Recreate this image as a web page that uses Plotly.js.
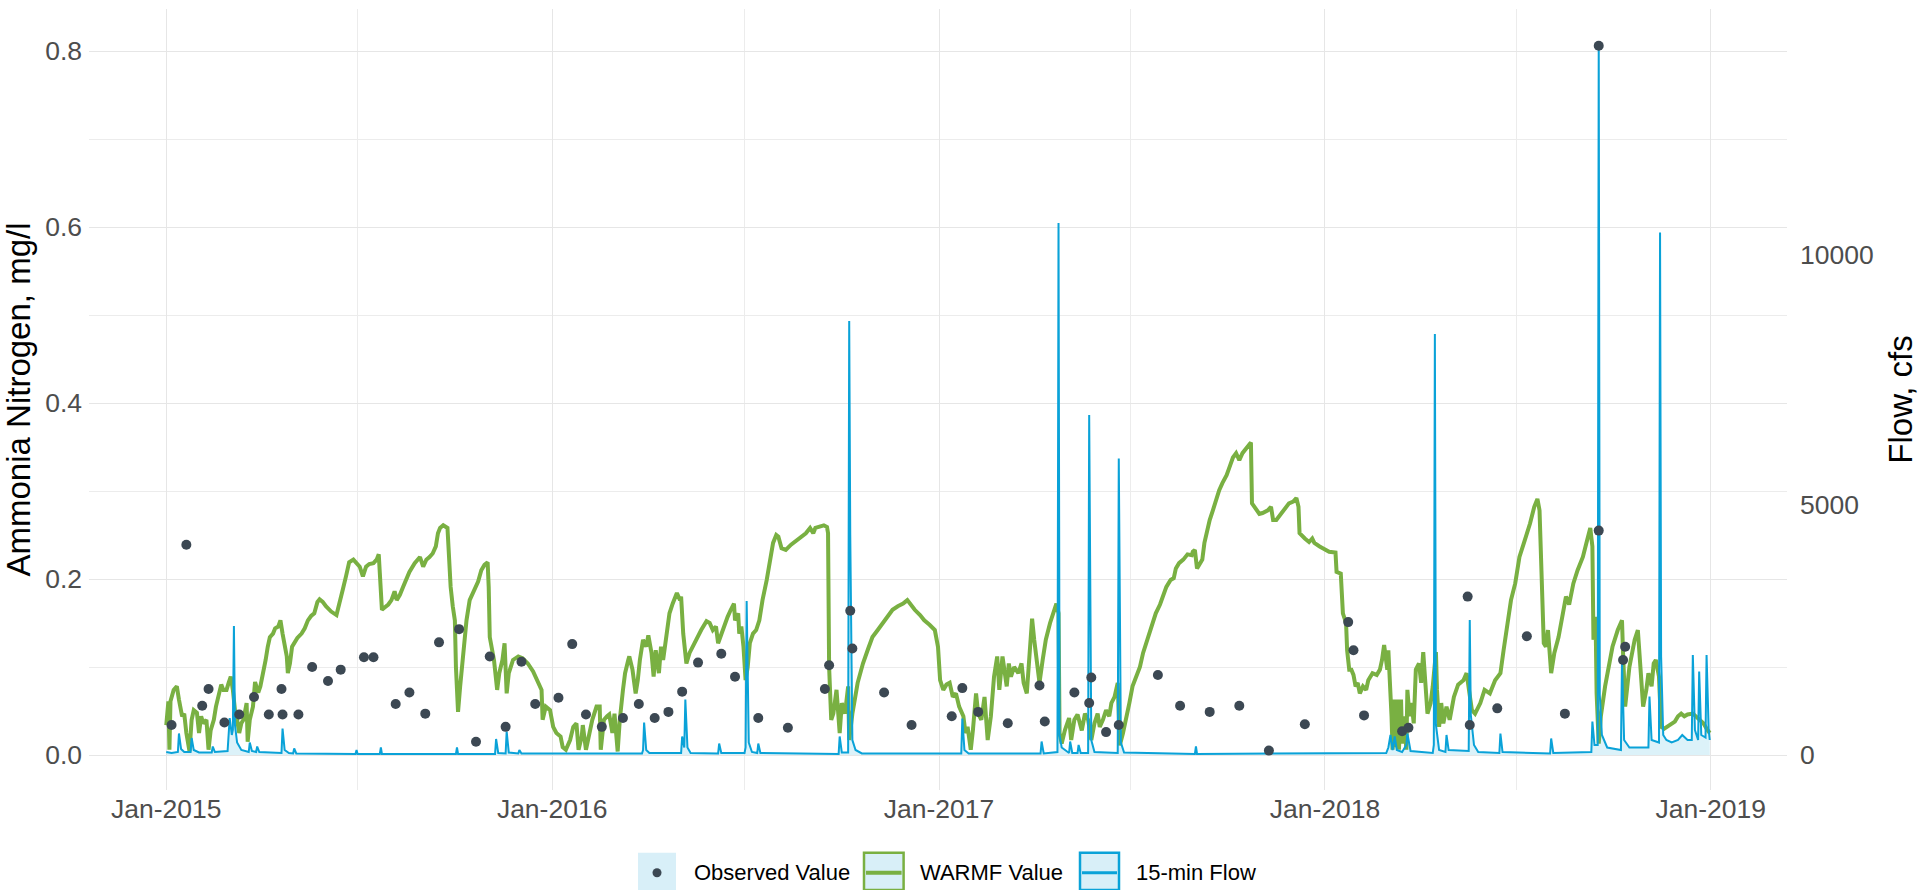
<!DOCTYPE html>
<html>
<head>
<meta charset="utf-8">
<script src="https://cdn.plot.ly/plotly-3.0.1.min.js"></script>
<style>html,body{margin:0;padding:0;background:#fff;}#chart{width:1920px;height:890px;}</style>
</head>
<body>
<div id="chart"></div>
<script>
// ---------- DATA ----------
const obsDates = ['2015-01-06','2015-01-20','2015-02-04','2015-02-10','2015-02-25','2015-03-11','2015-03-25','2015-04-08','2015-04-20','2015-04-21','2015-05-06','2015-05-19','2015-06-03','2015-06-15','2015-07-07','2015-07-16','2015-08-06','2015-08-19','2015-09-03','2015-09-16','2015-10-05','2015-10-21','2015-11-03','2015-11-18','2015-12-03','2015-12-16','2016-01-07','2016-01-20','2016-02-02','2016-02-17','2016-03-08','2016-03-23','2016-04-07','2016-04-20','2016-05-03','2016-05-18','2016-06-09','2016-06-22','2016-07-14','2016-08-11','2016-09-15','2016-09-19','2016-10-09','2016-10-11','2016-11-10','2016-12-06','2017-01-13','2017-01-23','2017-02-07','2017-03-07','2017-04-06','2017-04-11','2017-05-09','2017-05-23','2017-05-25','2017-06-08','2017-06-20','2017-07-27','2017-08-17','2017-09-14','2017-10-12','2017-11-09','2017-12-13','2018-01-23','2018-01-28','2018-02-07','2018-03-15','2018-03-21','2018-05-16','2018-05-18','2018-06-13','2018-07-11','2018-08-16','2018-09-17','2018-09-17','2018-10-10','2018-10-12'];
const obsValues = [0.034,0.239,0.056,0.075,0.037,0.046,0.066,0.046,0.075,0.046,0.046,0.100,0.084,0.097,0.111,0.111,0.058,0.071,0.047,0.128,0.143,0.015,0.112,0.032,0.106,0.058,0.065,0.126,0.046,0.032,0.042,0.058,0.042,0.049,0.072,0.105,0.115,0.089,0.042,0.031,0.075,0.102,0.164,0.121,0.071,0.034,0.044,0.076,0.049,0.036,0.079,0.038,0.071,0.059,0.088,0.026,0.034,0.091,0.056,0.049,0.056,0.005,0.035,0.151,0.119,0.045,0.027,0.031,0.180,0.034,0.053,0.135,0.047,0.255,0.806,0.108,0.123];

const warmfDates = ['2015-01-01','2015-01-03','2015-01-04','2015-01-05','2015-01-08','2015-01-11','2015-01-13','2015-01-16','2015-01-18','2015-01-20','2015-01-23','2015-01-25','2015-01-27','2015-01-30','2015-02-01','2015-02-03','2015-02-05','2015-02-08','2015-02-10','2015-02-12','2015-02-15','2015-02-17','2015-02-20','2015-02-22','2015-02-24','2015-02-27','2015-03-01','2015-03-03','2015-03-05','2015-03-07','2015-03-09','2015-03-11','2015-03-13','2015-03-15','2015-03-18','2015-03-19','2015-03-21','2015-03-24','2015-03-26','2015-03-29','2015-03-31','2015-04-02','2015-04-05','2015-04-07','2015-04-09','2015-04-12','2015-04-14','2015-04-17','2015-04-19','2015-04-21','2015-04-23','2015-04-25','2015-04-26','2015-04-28','2015-04-30','2015-05-02','2015-05-05','2015-05-09','2015-05-12','2015-05-15','2015-05-18','2015-05-21','2015-05-24','2015-05-26','2015-05-29','2015-06-01','2015-06-06','2015-06-11','2015-06-14','2015-06-17','2015-06-20','2015-06-23','2015-06-27','2015-06-30','2015-07-03','2015-07-06','2015-07-09','2015-07-12','2015-07-16','2015-07-19','2015-07-21','2015-07-22','2015-07-24','2015-07-26','2015-07-30','2015-08-02','2015-08-05','2015-08-07','2015-08-10','2015-08-13','2015-08-16','2015-08-19','2015-08-24','2015-08-29','2015-09-01','2015-09-04','2015-09-07','2015-09-10','2015-09-13','2015-09-15','2015-09-17','2015-09-20','2015-09-24','2015-09-25','2015-09-27','2015-09-29','2015-10-01','2015-10-02','2015-10-04','2015-10-06','2015-10-09','2015-10-12','2015-10-15','2015-10-20','2015-10-23','2015-10-26','2015-10-29','2015-11-01','2015-11-02','2015-11-03','2015-11-05','2015-11-07','2015-11-10','2015-11-12','2015-11-15','2015-11-17','2015-11-19','2015-11-21','2015-11-25','2015-11-30','2015-12-04','2015-12-09','2015-12-14','2015-12-18','2015-12-22','2015-12-23','2015-12-26','2015-12-30','2016-01-02','2016-01-05','2016-01-09','2016-01-11','2016-01-14','2016-01-18','2016-01-21','2016-01-24','2016-01-26','2016-01-29','2016-01-30','2016-02-02','2016-02-05','2016-02-08','2016-02-12','2016-02-15','2016-02-16','2016-02-19','2016-02-22','2016-02-24','2016-02-27','2016-02-29','2016-03-03','2016-03-05','2016-03-08','2016-03-10','2016-03-13','2016-03-14','2016-03-17','2016-03-20','2016-03-22','2016-03-24','2016-03-27','2016-03-30','2016-04-01','2016-04-04','2016-04-06','2016-04-08','2016-04-11','2016-04-13','2016-04-15','2016-04-18','2016-04-21','2016-04-24','2016-04-28','2016-05-01','2016-05-02','2016-05-04','2016-05-07','2016-05-10','2016-05-13','2016-05-17','2016-05-21','2016-05-26','2016-05-29','2016-06-01','2016-06-04','2016-06-06','2016-06-09','2016-06-12','2016-06-15','2016-06-18','2016-06-21','2016-06-22','2016-06-25','2016-06-26','2016-06-28','2016-06-30','2016-07-02','2016-07-04','2016-07-06','2016-07-09','2016-07-12','2016-07-15','2016-07-18','2016-07-22','2016-07-25','2016-07-28','2016-07-31','2016-08-02','2016-08-05','2016-08-09','2016-08-14','2016-08-19','2016-08-24','2016-08-28','2016-09-01','2016-09-04','2016-09-06','2016-09-10','2016-09-14','2016-09-17','2016-09-18','2016-09-19','2016-09-20','2016-09-21','2016-09-23','2016-09-26','2016-09-29','2016-10-01','2016-10-04','2016-10-07','2016-10-08','2016-10-11','2016-10-16','2016-10-21','2016-10-26','2016-10-30','2016-11-04','2016-11-09','2016-11-14','2016-11-18','2016-11-23','2016-11-28','2016-12-02','2016-12-06','2016-12-09','2016-12-14','2016-12-18','2016-12-23','2016-12-28','2016-12-31','2017-01-02','2017-01-05','2017-01-08','2017-01-11','2017-01-14','2017-01-17','2017-01-20','2017-01-24','2017-01-26','2017-01-28','2017-01-31','2017-02-02','2017-02-05','2017-02-07','2017-02-10','2017-02-13','2017-02-16','2017-02-19','2017-02-22','2017-02-25','2017-02-27','2017-03-02','2017-03-06','2017-03-08','2017-03-10','2017-03-13','2017-03-17','2017-03-20','2017-03-22','2017-03-25','2017-03-28','2017-03-30','2017-04-01','2017-04-04','2017-04-06','2017-04-09','2017-04-12','2017-04-16','2017-04-19','2017-04-22','2017-04-24','2017-04-25','2017-04-27','2017-04-30','2017-05-04','2017-05-06','2017-05-09','2017-05-12','2017-05-16','2017-05-19','2017-05-22','2017-05-25','2017-05-28','2017-05-31','2017-06-02','2017-06-05','2017-06-08','2017-06-11','2017-06-13','2017-06-16','2017-06-19','2017-06-20','2017-06-21','2017-06-24','2017-06-27','2017-06-30','2017-07-03','2017-07-07','2017-07-10','2017-07-13','2017-07-16','2017-07-19','2017-07-22','2017-07-25','2017-07-29','2017-08-01','2017-08-04','2017-08-08','2017-08-11','2017-08-13','2017-08-16','2017-08-20','2017-08-24','2017-08-28','2017-08-29','2017-08-31','2017-09-02','2017-09-04','2017-09-07','2017-09-09','2017-09-11','2017-09-14','2017-09-17','2017-09-20','2017-09-23','2017-09-26','2017-09-30','2017-10-03','2017-10-06','2017-10-09','2017-10-12','2017-10-15','2017-10-19','2017-10-23','2017-10-24','2017-10-27','2017-10-31','2017-11-03','2017-11-08','2017-11-11','2017-11-13','2017-11-16','2017-11-20','2017-11-24','2017-11-28','2017-12-02','2017-12-05','2017-12-07','2017-12-08','2017-12-13','2017-12-17','2017-12-20','2017-12-22','2017-12-27','2018-01-01','2018-01-05','2018-01-11','2018-01-12','2018-01-16','2018-01-18','2018-01-21','2018-01-22','2018-01-24','2018-01-26','2018-01-28','2018-01-30','2018-02-01','2018-02-03','2018-02-06','2018-02-09','2018-02-11','2018-02-15','2018-02-19','2018-02-22','2018-02-24','2018-02-26','2018-03-01','2018-03-02','2018-03-05','2018-03-06','2018-03-08','2018-03-09','2018-03-11','2018-03-12','2018-03-14','2018-03-15','2018-03-17','2018-03-19','2018-03-20','2018-03-22','2018-03-24','2018-03-26','2018-03-28','2018-03-31','2018-04-02','2018-04-04','2018-04-06','2018-04-08','2018-04-11','2018-04-13','2018-04-16','2018-04-17','2018-04-19','2018-04-21','2018-04-23','2018-04-26','2018-04-29','2018-05-03','2018-05-07','2018-05-12','2018-05-15','2018-05-17','2018-05-20','2018-05-23','2018-05-28','2018-06-01','2018-06-06','2018-06-11','2018-06-16','2018-06-19','2018-06-23','2018-06-26','2018-06-30','2018-07-04','2018-07-09','2018-07-14','2018-07-18','2018-07-21','2018-07-23','2018-07-25','2018-07-27','2018-07-29','2018-07-31','2018-08-03','2018-08-06','2018-08-10','2018-08-14','2018-08-17','2018-08-20','2018-08-24','2018-08-28','2018-09-02','2018-09-06','2018-09-09','2018-09-11','2018-09-12','2018-09-14','2018-09-15','2018-09-17','2018-09-19','2018-09-23','2018-09-26','2018-09-30','2018-10-05','2018-10-09','2018-10-10','2018-10-12','2018-10-16','2018-10-21','2018-10-24','2018-10-26','2018-10-29','2018-11-01','2018-11-03','2018-11-06','2018-11-08','2018-11-10','2018-11-13','2018-11-15','2018-11-18','2018-11-23','2018-11-28','2018-12-01','2018-12-04','2018-12-07','2018-12-10','2018-12-15','2018-12-20','2018-12-25','2018-12-28','2018-12-31'];
const warmfValues = [0.034,0.061,0.006,0.061,0.074,0.078,0.063,0.044,0.047,0.025,0.004,0.040,0.051,0.048,0.025,0.044,0.036,0.040,0.006,0.028,0.040,0.055,0.070,0.080,0.074,0.074,0.082,0.089,0.074,0.051,0.040,0.025,0.036,0.040,0.059,0.015,0.040,0.055,0.083,0.071,0.078,0.089,0.108,0.123,0.134,0.138,0.144,0.146,0.153,0.138,0.127,0.112,0.093,0.104,0.123,0.127,0.133,0.138,0.144,0.153,0.158,0.161,0.174,0.177,0.174,0.169,0.163,0.159,0.172,0.188,0.203,0.219,0.222,0.218,0.214,0.203,0.214,0.217,0.218,0.222,0.228,0.207,0.165,0.167,0.171,0.176,0.186,0.176,0.182,0.191,0.199,0.208,0.218,0.225,0.214,0.222,0.225,0.229,0.237,0.252,0.258,0.261,0.258,0.233,0.191,0.169,0.153,0.100,0.049,0.078,0.116,0.153,0.176,0.188,0.197,0.210,0.216,0.219,0.191,0.134,0.123,0.108,0.074,0.093,0.108,0.127,0.070,0.093,0.108,0.112,0.110,0.104,0.095,0.085,0.074,0.040,0.055,0.051,0.032,0.025,0.021,0.009,0.006,0.017,0.032,0.036,0.006,0.021,0.034,0.006,0.025,0.040,0.055,0.055,0.006,0.040,0.044,0.046,0.025,0.047,0.004,0.040,0.074,0.093,0.108,0.112,0.097,0.070,0.085,0.108,0.131,0.123,0.136,0.116,0.089,0.119,0.093,0.123,0.108,0.138,0.161,0.172,0.184,0.176,0.180,0.138,0.104,0.116,0.123,0.134,0.142,0.152,0.150,0.142,0.146,0.127,0.138,0.146,0.157,0.165,0.172,0.153,0.161,0.138,0.146,0.123,0.085,0.100,0.127,0.138,0.142,0.153,0.176,0.199,0.222,0.241,0.250,0.248,0.235,0.233,0.239,0.244,0.248,0.252,0.258,0.252,0.258,0.259,0.261,0.259,0.252,0.100,0.047,0.040,0.047,0.074,0.025,0.059,0.047,0.078,0.017,0.047,0.082,0.104,0.121,0.134,0.142,0.150,0.157,0.165,0.169,0.172,0.176,0.169,0.165,0.159,0.153,0.148,0.142,0.123,0.085,0.074,0.080,0.082,0.066,0.070,0.055,0.044,0.025,0.032,0.006,0.028,0.070,0.047,0.040,0.066,0.017,0.044,0.089,0.112,0.074,0.112,0.078,0.104,0.089,0.100,0.093,0.104,0.082,0.070,0.116,0.155,0.131,0.104,0.082,0.108,0.131,0.150,0.161,0.172,0.161,0.025,0.013,0.028,0.042,0.017,0.040,0.046,0.028,0.047,0.040,0.017,0.036,0.047,0.032,0.040,0.051,0.044,0.059,0.066,0.082,0.044,0.011,0.025,0.040,0.059,0.078,0.089,0.100,0.116,0.127,0.138,0.150,0.161,0.171,0.180,0.191,0.199,0.201,0.212,0.218,0.222,0.228,0.227,0.231,0.233,0.212,0.216,0.222,0.241,0.252,0.267,0.278,0.290,0.301,0.309,0.318,0.328,0.338,0.343,0.335,0.343,0.349,0.355,0.286,0.280,0.274,0.275,0.278,0.282,0.267,0.267,0.273,0.280,0.286,0.288,0.292,0.282,0.252,0.246,0.242,0.246,0.241,0.237,0.234,0.231,0.230,0.208,0.206,0.161,0.150,0.119,0.097,0.097,0.091,0.078,0.082,0.070,0.078,0.074,0.085,0.093,0.091,0.097,0.108,0.125,0.097,0.119,0.044,0.006,0.063,0.009,0.063,0.006,0.063,0.013,0.044,0.006,0.074,0.044,0.059,0.036,0.097,0.104,0.082,0.117,0.082,0.047,0.059,0.078,0.117,0.074,0.032,0.059,0.036,0.055,0.040,0.066,0.080,0.085,0.093,0.074,0.051,0.047,0.059,0.074,0.070,0.085,0.093,0.119,0.150,0.176,0.195,0.225,0.244,0.263,0.282,0.291,0.278,0.195,0.127,0.123,0.142,0.093,0.116,0.134,0.161,0.180,0.171,0.195,0.210,0.225,0.244,0.258,0.237,0.131,0.157,0.070,0.013,0.044,0.078,0.100,0.123,0.142,0.153,0.116,0.055,0.100,0.131,0.142,0.108,0.055,0.074,0.093,0.078,0.104,0.108,0.089,0.032,0.030,0.034,0.038,0.044,0.047,0.044,0.046,0.047,0.042,0.036,0.030,0.025];

const flowDates = ['2015-01-01','2015-01-06','2015-01-12','2015-01-13','2015-01-15','2015-01-18','2015-01-24','2015-01-25','2015-01-27','2015-02-01','2015-02-13','2015-02-14','2015-02-16','2015-02-28','2015-03-02','2015-03-04','2015-03-05','2015-03-06','2015-03-07','2015-03-09','2015-03-13','2015-03-20','2015-03-21','2015-03-23','2015-03-27','2015-03-28','2015-03-30','2015-04-20','2015-04-21','2015-04-23','2015-04-27','2015-05-01','2015-05-02','2015-05-04','2015-06-29','2015-06-30','2015-07-01','2015-07-22','2015-07-23','2015-07-24','2015-10-02','2015-10-03','2015-10-04','2015-11-08','2015-11-09','2015-11-11','2015-11-18','2015-11-19','2015-11-21','2015-11-30','2015-12-01','2015-12-03','2016-03-26','2016-03-27','2016-03-28','2016-03-30','2016-04-02','2016-05-02','2016-05-03','2016-05-05','2016-05-06','2016-05-08','2016-05-11','2016-06-06','2016-06-07','2016-06-09','2016-07-01','2016-07-02','2016-07-03','2016-07-05','2016-07-08','2016-07-13','2016-07-14','2016-07-16','2016-09-28','2016-09-29','2016-10-01','2016-10-07','2016-10-08','2016-10-09','2016-10-11','2016-10-14','2016-10-20','2017-01-22','2017-01-23','2017-01-25','2017-01-29','2017-04-07','2017-04-08','2017-04-10','2017-04-23','2017-04-24','2017-04-25','2017-04-27','2017-05-04','2017-05-05','2017-05-07','2017-05-12','2017-05-13','2017-05-15','2017-05-22','2017-05-23','2017-05-25','2017-05-28','2017-06-19','2017-06-20','2017-06-22','2017-06-25','2017-08-31','2017-09-01','2017-09-02','2018-02-28','2018-03-02','2018-03-04','2018-03-06','2018-03-08','2018-03-10','2018-03-15','2018-03-19','2018-03-20','2018-03-23','2018-04-13','2018-04-14','2018-04-15','2018-04-16','2018-04-19','2018-04-25','2018-04-26','2018-04-28','2018-05-17','2018-05-18','2018-05-19','2018-05-22','2018-05-26','2018-06-15','2018-06-16','2018-06-18','2018-08-02','2018-08-03','2018-08-05','2018-09-10','2018-09-11','2018-09-13','2018-09-16','2018-09-17','2018-09-18','2018-09-20','2018-09-25','2018-10-08','2018-10-09','2018-10-11','2018-10-16','2018-11-03','2018-11-04','2018-11-06','2018-11-13','2018-11-14','2018-11-15','2018-11-17','2018-11-20','2018-11-25','2018-12-01','2018-12-05','2018-12-10','2018-12-14','2018-12-15','2018-12-17','2018-12-20','2018-12-21','2018-12-23','2018-12-27','2018-12-28','2018-12-30','2018-12-31'];
const flowValues = [60,40,60,430,120,60,60,340,100,50,50,170,60,80,740,400,500,2580,600,250,100,60,250,80,60,170,60,40,530,100,40,30,130,30,20,100,20,20,150,20,20,150,20,20,320,40,30,470,50,30,100,30,30,100,650,100,40,40,370,150,1110,150,40,30,230,40,40,150,3080,250,60,40,230,40,20,370,50,50,8680,4400,300,100,30,30,730,100,30,30,270,30,60,10640,400,150,40,270,40,40,200,40,40,6800,300,60,40,5930,250,50,20,170,20,40,150,400,100,370,100,60,200,430,80,40,200,8420,600,100,60,400,100,80,2700,800,200,60,40,430,60,30,330,40,60,670,200,200,14220,1200,400,150,100,1900,300,150,150,1170,300,250,10450,1970,400,300,250,300,400,300,300,2000,500,300,1670,400,350,2000,500,300];

const xTickLabelFmt = '%b-%Y';
const legendLabels = ['Observed Value', 'WARMF Value', '15-min Flow'];

// ---------- STYLE ----------
const GREEN = '#79b042', BLUE = '#0aa2d8', DOT = '#3c4853', FILL = 'rgba(10,162,216,0.14)';
const FONT = 'Liberation Sans, Arial, sans-serif';
const W = 1920, H = 890, L = 89, R = 1787, T = 9, B = 790;
const px = x => (x - L) / (R - L);
const py = y => (B - y) / (B - T);

const traces = [
  {x: warmfDates, y: warmfValues, type: 'scatter', mode: 'lines', name: legendLabels[1],
   line: {color: GREEN, width: 4}, yaxis: 'y', showlegend: false},
  {x: flowDates, y: flowValues, type: 'scatter', mode: 'lines', name: legendLabels[2],
   line: {color: BLUE, width: 2}, fill: 'tozeroy', fillcolor: FILL, yaxis: 'y2', showlegend: false},
  {x: obsDates, y: obsValues, type: 'scatter', mode: 'markers', name: legendLabels[0],
   marker: {color: DOT, size: 10}, yaxis: 'y3', showlegend: false}
];

const yRange = [-0.03977, 0.84773];
const tickFont = {family: FONT, size: 26.5, color: '#4d4d4d'};
const titleFont = {family: FONT, size: 33, color: '#000000'};

// legend drawn as key boxes + text
const shapes = [];
const annotations = [];
const keyTop = 852.7, keyBot = 890, keyMid = 872.7;
const keys = [[638, 676, null], [864, 903.6, GREEN], [1080, 1119, BLUE]];
keys.forEach((k, i) => {
  shapes.push({type: 'rect', xref: 'paper', yref: 'paper', x0: px(k[0]), x1: px(k[1]), y0: py(keyBot), y1: py(keyTop),
    fillcolor: '#d8eff8', line: {width: k[2] ? 2.5 : 0, color: k[2] || '#d8eff8'}, layer: 'above'});
  if (i === 0) {
    shapes.push({type: 'circle', xref: 'paper', yref: 'paper', x0: px(652.5), x1: px(661.5), y0: py(877.2), y1: py(868.2),
      fillcolor: DOT, line: {width: 0}, layer: 'above'});
  } else {
    shapes.push({type: 'line', xref: 'paper', yref: 'paper', x0: px(k[0] + 2), x1: px(k[1] - 2), y0: py(keyMid), y1: py(keyMid),
      line: {color: k[2], width: i === 1 ? 4 : 3}, layer: 'above'});
  }
});
const textX = [691.5, 918, 1133.5];
legendLabels.forEach((t, i) => annotations.push({text: t, xref: 'paper', yref: 'paper', x: px(textX[i]), y: py(keyMid),
  xanchor: 'left', yanchor: 'middle', showarrow: false, font: {family: FONT, size: 22, color: '#000'}}));

const layout = {
  width: W, height: H,
  margin: {l: L, r: W - R, t: T, b: H - B, pad: 0},
  paper_bgcolor: '#ffffff', plot_bgcolor: '#ffffff',
  showlegend: false, hovermode: false,
  xaxis: {type: 'date', range: ['2014-10-19 22:00', '2019-03-14 02:00'], tick0: '2015-01-01', dtick: 'M12',
    tickformat: xTickLabelFmt, showgrid: true, gridcolor: '#e6e6e6', gridwidth: 1,
    minor: {tick0: '2015-01-01', dtick: 'M6', showgrid: true, gridcolor: '#ececec', gridwidth: 1},
    zeroline: false, showline: false, ticks: '', tickfont: tickFont, ticklabelstandoff: 0},
  yaxis: {range: yRange, tick0: 0, dtick: 0.2, tickformat: '.1f', showgrid: true, gridcolor: '#e6e6e6', gridwidth: 1,
    minor: {tick0: 0, dtick: 0.1, showgrid: true, gridcolor: '#ececec', gridwidth: 1},
    zeroline: false, showline: false, ticks: '', tickfont: tickFont, ticklabelstandoff: 6,
    title: {text: 'Ammonia Nitrogen, mg/l', font: titleFont, standoff: 10}},
  yaxis2: {overlaying: 'y', side: 'right', range: [-700, 14920], tick0: 0, dtick: 5000, tickformat: 'd',
    showgrid: false, zeroline: false, showline: false, ticks: '', tickfont: tickFont, ticklabelstandoff: 12,
    title: {text: 'Flow, cfs', font: titleFont, standoff: 16}},
  yaxis3: {overlaying: 'y', range: yRange, visible: false, showgrid: false, zeroline: false},
  shapes: shapes,
  annotations: annotations
};

Plotly.newPlot('chart', traces, layout, {staticPlot: true, displayModeBar: false});
</script>
</body>
</html>
